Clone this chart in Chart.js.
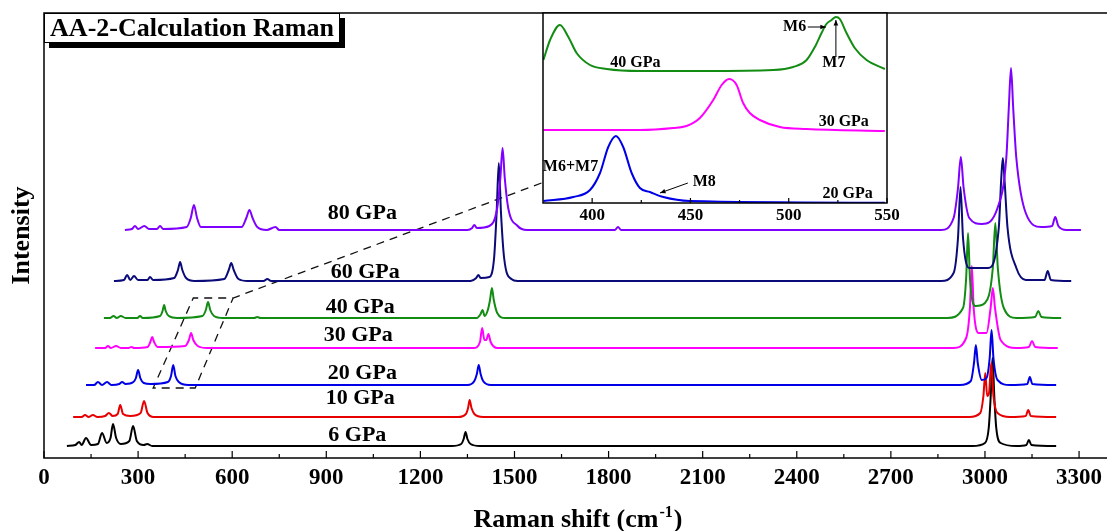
<!DOCTYPE html>
<html>
<head>
<meta charset="utf-8">
<script src="https://cdn.jsdelivr.net/npm/chart.js@4.4.0/dist/chart.umd.min.js"></script>
<style>
  html, body { margin: 0; padding: 0; background: #fff; overflow: hidden; width: 1107px; height: 531px; }
  #wrap { position: relative; width: 1112px; height: 531px; }
  #main { position: absolute; left: 0; top: 0; }
  #inset { position: absolute; left: 530px; top: 0; }
</style>
</head>
<body>
<div id="wrap">
  <canvas id="main" width="1112" height="531"></canvas>
  <canvas id="inset" width="375" height="228"></canvas>
</div>
<script>
const SERIF = "'Liberation Serif','Times New Roman',serif";

// x axis ticks (Raman shift, cm-1)
const xTicks = [0, 300, 600, 900, 1200, 1500, 1800, 2100, 2400, 2700, 3000, 3300];
const xMinor = [150, 450, 750, 1050, 1350, 1650, 1950, 2250, 2550, 2850, 3150];

// series names / colours (top to bottom)
const seriesNames = ["80 GPa", "60 GPa", "40 GPa", "30 GPa", "20 GPa", "10 GPa", "6 GPa"];
const seriesColors = ["#8000ff", "#0a0a78", "#128c12", "#ff00ff", "#0000e6", "#e60000", "#000000"];
// where the pressure labels sit (x in cm-1, y in intensity units)
const labelX = [1015, 1024, 1008, 1002, 1015, 1008, 999];
const labelY = [245, 186, 151, 123, 85, 60, 23];

// spectra: [Raman shift, stacked intensity]
const s80 = [[258,228],[280,229],[290,232],[300,229],[320,232],[335,229],[360,229],[370,232],[380,229],[455,231],[468,240],[478,253],[488,240],[500,231],[630,231],[645,240],[655,248],[665,240],[680,231],[710,228],[738,231],[750,228],[1350,228],[1365,230],[1372,233],[1380,230],[1420,232],[1445,250],[1455,280],[1462,310],[1469,280],[1480,250],[1510,232],[1540,228],[1820,228],[1830,231],[1840,228],[2860,228],[2900,240],[2914,270],[2923,301],[2932,270],[2950,240],[2990,234],[3040,250],[3068,300],[3076,350],[3083,390],[3090,350],[3100,300],[3130,245],[3180,231],[3214,232],[3224,241],[3234,232],[3260,228],[3306,228]];
const s60 = [[223,177],[255,178],[265,183],[275,178],[287,182],[300,178],[330,178],[338,181],[348,178],[415,180],[427,188],[434,196],[441,188],[453,180],[480,177],[575,179],[589,188],[597,195],[605,188],[620,179],[650,177],[700,177],[712,179],[724,177],[1360,177],[1378,180],[1385,183],[1392,180],[1420,181],[1435,200],[1443,245],[1450,295],[1457,245],[1467,200],[1490,179],[1510,177],[2860,177],[2900,185],[2914,220],[2922,271],[2930,220],[2950,190],[3010,190],[3044,230],[3052,280],[3057,300],[3062,280],[3072,230],[3100,190],[3130,178],[3190,178],[3200,187],[3210,178],[3275,177]];
const s40 = [[191,140],[210,140],[222,142],[232,140],[245,142],[260,140],[298,140],[306,142],[315,140],[370,142],[378,147],[383,153],[388,147],[398,142],[425,140],[505,142],[516,148],[523,156],[530,148],[542,142],[570,140],[670,140],[680,141],[690,140],[1380,140],[1392,144],[1398,148],[1405,142],[1415,148],[1422,158],[1428,170],[1434,158],[1445,145],[1470,140],[2880,140],[2930,150],[2940,180],[2946,225],[2952,180],[2970,152],[3000,155],[3025,190],[3033,235],[3041,190],[3060,150],[3100,140],[3160,141],[3170,147],[3180,141],[3243,140]];
const s30 = [[163,110],[195,110],[204,112],[213,110],[230,112],[245,110],[270,110],[278,111],[288,110],[330,111],[339,116],[345,121],[351,116],[362,111],[450,112],[462,118],[469,125],[476,118],[490,112],[520,110],[1370,110],[1390,116],[1397,130],[1404,118],[1410,118],[1417,124],[1424,116],[1445,110],[2900,110],[2940,120],[2952,150],[2958,192],[2964,150],[2980,125],[3005,125],[3018,150],[3025,170],[3032,150],[3050,118],[3100,110],[3140,111],[3150,117],[3160,111],[3232,110]];
const s20 = [[134,73],[160,73],[172,76],[185,73],[201,76],[215,73],[240,74],[249,76],[260,74],[285,76],[293,80],[300,88],[307,80],[318,75],[340,74],[395,76],[405,82],[412,93],[419,82],[430,76],[460,73],[1350,73],[1372,77],[1380,84],[1386,93],[1392,84],[1400,77],[1425,73],[2920,73],[2955,77],[2965,95],[2971,113],[2977,95],[2990,78],[3005,80],[3015,100],[3021,128],[3027,100],[3040,78],[3080,73],[3135,74],[3143,81],[3151,74],[3227,73]];
const s10 = [[93,41],[120,41],[131,43],[142,41],[156,43],[170,41],[195,42],[207,45],[219,42],[235,44],[243,53],[252,44],[275,42],[308,45],[319,57],[330,45],[350,41],[1320,41],[1345,44],[1352,50],[1357,58],[1363,50],[1372,44],[1400,41],[2950,41],[2985,45],[2995,62],[3001,85],[3007,62],[3013,65],[3020,95],[3027,62],[3040,45],[3080,41],[3130,42],[3138,48],[3146,42],[3227,41]];
const s6 = [[73,12],[100,13],[112,16],[120,13],[134,20],[150,13],[172,14],[185,25],[200,15],[212,20],[220,34],[230,20],[245,14],[272,17],[284,32],[296,17],[318,13],[329,14],[345,12],[1300,12],[1330,14],[1338,19],[1344,26],[1350,19],[1360,14],[1390,12],[2960,12],[3000,15],[3012,30],[3018,60],[3024,100],[3030,60],[3036,30],[3050,15],[3100,12],[3132,13],[3140,18],[3148,13],[3227,12]];
const mainSeries = [s80, s60, s40, s30, s20, s10, s6];

// dashed zoom box and the line to the inset
const zoomBox = [[1586,275],[603,160],[476,160],[348,70],[482,70],[603,160]];

// inset data (x in cm-1, y in inset intensity units)
const insetTicks = [400, 450, 500, 550];
const insetMinor = [425, 475, 525];
const in40 = [[375.2,143],[378.6,163],[383.6,178],[387.9,166],[392.1,150],[398.9,138],[407.4,134],[424.3,132],[458.2,132],[492.1,133],[502.3,136],[509.1,143],[513.3,156],[516.7,170],[519.2,179],[521.8,183],[524,186],[526,184],[529.4,170],[533.6,155],[539.6,143],[548.9,134]];
const in30 = [[375.2,73],[424.3,73],[441.2,75],[448,77],[454.8,85],[461.6,103],[465.9,118],[469.7,124],[473.5,118],[476.8,100],[480.2,90],[485.3,83],[495.5,76],[509.1,74],[548.9,72]];
const in20 = [[375.2,2],[390.4,6],[398.9,13],[404,30],[408.2,56],[412.1,67],[415.8,56],[420.1,30],[424.3,15],[429.4,11],[436.2,6],[449.7,2],[548.9,0.3]];
const insetSeries = [in40, in30, in20];
const insetColors = ["#128c12", "#ff00ff", "#0000e6"];
const insetText = ["40 GPa", "30 GPa", "20 GPa", "M6+M7", "M8", "M6", "M7"];
const insetTextX = [422, 528, 530, 389, 457, 503, 523];
const insetTextY = [140, 81, 9, 36, 21, 176, 140];
// arrows: [x0, y0, x1, y1]
const insetArrows = [[509.7,176,518.9,176],[524,147,524,183],[448.7,20,434.5,10]];

const toXY = arr => arr.map(p => ({ x: p[0], y: p[1] }));

//frame and inward ticks
function drawFrame(chart, major, minor, majLen, minLen) {
  const { ctx, chartArea: a, scales: { x } } = chart;
  ctx.save();
  ctx.strokeStyle = "#000";
  ctx.lineWidth = 1.5;
  ctx.strokeRect(a.left, a.top, a.right - a.left, a.bottom - a.top);
  ctx.lineWidth = 1.2;
  ctx.beginPath();
  major.forEach(v => { const p = x.getPixelForValue(v); ctx.moveTo(p, a.bottom); ctx.lineTo(p, a.bottom - majLen); });
  minor.forEach(v => { const p = x.getPixelForValue(v); ctx.moveTo(p, a.bottom); ctx.lineTo(p, a.bottom - minLen); });
  ctx.stroke();
  ctx.restore();
}

const mainDeco = {
  id: "mainDeco",
  afterDraw(chart) {
    const { ctx, chartArea: a, scales: { x, y } } = chart;
    drawFrame(chart, xTicks, xMinor, 7, 4);

    //pressure labels
    ctx.save();
    ctx.fillStyle = "#000";
    ctx.font = "bold 22px " + SERIF;
    ctx.textAlign = "center";
    ctx.textBaseline = "middle";
    seriesNames.forEach((n, i) => ctx.fillText(n, x.getPixelForValue(labelX[i]), y.getPixelForValue(labelY[i])));

    //title box with shadow
    ctx.fillRect(a.left + 5, a.top + 5, 296, 30);
    ctx.fillStyle = "#fff";
    ctx.fillRect(a.left, a.top, 296, 30);
    ctx.strokeStyle = "#000";
    ctx.lineWidth = 1;
    ctx.strokeRect(a.left + 0.5, a.top + 0.5, 295, 29);
    ctx.fillStyle = "#000";
    ctx.font = "bold 26px " + SERIF;
    ctx.fillText("AA-2-Calculation Raman", a.left + 148, a.top + 16);

    //y title
    ctx.save();
    ctx.translate(22, (a.top + a.bottom) / 2);
    ctx.rotate(-Math.PI / 2);
    ctx.fillText("Intensity", 0, 0);
    ctx.restore();

    //x title with superscript
    ctx.textAlign = "left";
    ctx.textBaseline = "alphabetic";
    const t1 = "Raman shift (cm", sup = "-1", t2 = ")";
    ctx.font = "bold 26px " + SERIF;
    const w1 = ctx.measureText(t1).width, w3 = ctx.measureText(t2).width;
    ctx.font = "bold 16px " + SERIF;
    const w2 = ctx.measureText(sup).width;
    let sx = 577 - (w1 + w2 + w3) / 2;
    const by = 527;
    ctx.font = "bold 26px " + SERIF;
    ctx.fillText(t1, sx, by);
    ctx.font = "bold 16px " + SERIF;
    ctx.fillText(sup, sx + w1 + 1, by - 10);
    ctx.font = "bold 26px " + SERIF;
    ctx.fillText(t2, sx + w1 + w2 + 2, by);
    ctx.restore();
  }
};

const datasets = mainSeries.map((s, i) => ({
  label: seriesNames[i],
  data: toXY(s),
  borderColor: seriesColors[i],
  borderWidth: 2,
  pointRadius: 0,
  fill: false,
  cubicInterpolationMode: "monotone"
}));
datasets.push({
  label: "zoom",
  data: toXY(zoomBox),
  borderColor: "#111",
  borderWidth: 1.3,
  borderDash: [8, 6],
  pointRadius: 0,
  fill: false,
  tension: 0
});

new Chart(document.getElementById("main").getContext("2d"), {
  type: "line",
  data: { datasets },
  options: {
    responsive: false,
    animation: false,
    events: [],
    layout: { padding: { top: 13, left: 0, right: 0, bottom: 0 } },
    plugins: { legend: { display: false }, tooltip: { enabled: false } },
    scales: {
      x: {
        type: "linear", min: 0, max: 3405,
        afterBuildTicks: s => { s.ticks = xTicks.map(v => ({ value: v })); },
        afterFit: s => { s.height = 73; },
        ticks: { font: { family: SERIF, size: 23, weight: "bold" }, color: "#000", padding: 6, maxRotation: 0, autoSkip: false, callback: v => String(v) },
        grid: { display: false, drawTicks: false },
        border: { display: false }
      },
      y: {
        min: 0, max: 445,
        afterFit: s => { s.width = 44; },
        ticks: { display: false },
        grid: { display: false, drawTicks: false },
        border: { display: false }
      }
    }
  },
  plugins: [mainDeco]
});

//inset chart
const insetDeco = {
  id: "insetDeco",
  beforeDatasetsDraw(chart) {
    const { ctx, chartArea: a } = chart;
    ctx.save();
    ctx.fillStyle = "#fff";
    ctx.fillRect(a.left, a.top, a.right - a.left, a.bottom - a.top);
    ctx.restore();
  },
  afterDraw(chart) {
    const { ctx, scales: { x, y } } = chart;
    drawFrame(chart, insetTicks, insetMinor, 5, 3);
    ctx.save();
    ctx.fillStyle = "#000";
    ctx.strokeStyle = "#000";
    ctx.font = "bold 16px " + SERIF;
    ctx.textAlign = "center";
    ctx.textBaseline = "middle";
    insetText.forEach((t, i) => ctx.fillText(t, x.getPixelForValue(insetTextX[i]), y.getPixelForValue(insetTextY[i])));
    ctx.lineWidth = 1;
    insetArrows.forEach(([x0, y0, x1, y1]) => {
      const px0 = x.getPixelForValue(x0), py0 = y.getPixelForValue(y0);
      const px1 = x.getPixelForValue(x1), py1 = y.getPixelForValue(y1);
      const ang = Math.atan2(py1 - py0, px1 - px0);
      ctx.beginPath();
      ctx.moveTo(px0, py0);
      ctx.lineTo(px1, py1);
      ctx.stroke();
      ctx.beginPath();
      ctx.moveTo(px1, py1);
      ctx.lineTo(px1 - 6 * Math.cos(ang - 0.4), py1 - 6 * Math.sin(ang - 0.4));
      ctx.lineTo(px1 - 6 * Math.cos(ang + 0.4), py1 - 6 * Math.sin(ang + 0.4));
      ctx.closePath();
      ctx.fill();
    });
    ctx.restore();
  }
};

new Chart(document.getElementById("inset").getContext("2d"), {
  type: "line",
  data: {
    datasets: insetSeries.map((s, i) => ({
      data: toXY(s),
      borderColor: insetColors[i],
      borderWidth: 2,
      pointRadius: 0,
      fill: false,
      cubicInterpolationMode: "monotone"
    }))
  },
  options: {
    responsive: false,
    animation: false,
    events: [],
    layout: { padding: { top: 13, left: 0, right: 18, bottom: 0 } },
    plugins: { legend: { display: false }, tooltip: { enabled: false } },
    scales: {
      x: {
        type: "linear", min: 375, max: 550,
        afterBuildTicks: s => { s.ticks = insetTicks.map(v => ({ value: v })); },
        afterFit: s => { s.height = 25; },
        ticks: { font: { family: SERIF, size: 17, weight: "bold" }, color: "#000", padding: 2, maxRotation: 0, autoSkip: false, callback: v => String(v) },
        grid: { display: false, drawTicks: false },
        border: { display: false }
      },
      y: {
        min: 0, max: 190,
        afterFit: s => { s.width = 13; },
        ticks: { display: false },
        grid: { display: false, drawTicks: false },
        border: { display: false }
      }
    }
  },
  plugins: [insetDeco]
});
</script>
</body>
</html>
